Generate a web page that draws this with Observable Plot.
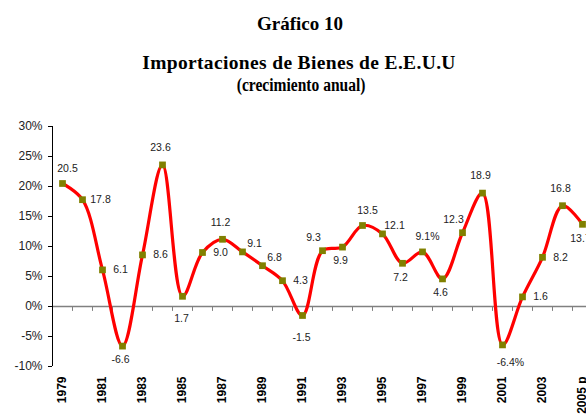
<!DOCTYPE html>
<html>
<head>
<meta charset="utf-8">
<script src="https://cdn.jsdelivr.net/npm/d3@7"></script>
<script src="https://cdn.jsdelivr.net/npm/@observablehq/plot@0.6"></script>
<style>
  html, body { margin: 0; padding: 0; background: #fff; overflow: hidden; }
  #wrap { position: relative; width: 586px; height: 417px; }
  .t { position: absolute; left: 0; width: 586px; text-align: center; font-family: "Liberation Serif", "Times New Roman", serif; font-weight: bold; color: #000; white-space: nowrap; }
  #chart { position: absolute; left: 0; top: 0; }
</style>
</head>
<body>
<div id="wrap">
  <div id="chart"></div>
  <div class="t" id="t1" style="top:14px;font-size:19px;line-height:19px;left:7px;">Gráfico 10</div>
  <div class="t" id="t2" style="top:53px;font-size:19.5px;line-height:19.5px;left:6px;letter-spacing:0.35px;">Importaciones de Bienes de E.E.U.U</div>
  <div class="t" id="t3" style="top:76px;font-size:18.5px;line-height:18.5px;left:7px;transform:scaleX(0.84);transform-origin:300px 50%;">(crecimiento anual)</div>
</div>
<script>
// ---- data ----
const years = [1979,1980,1981,1982,1983,1984,1985,1986,1987,1988,1989,1990,1991,1992,1993,1994,1995,1996,1997,1998,1999,2000,2001,2002,2003,2004,2005];
const growth = [20.5,17.8,6.1,-6.6,8.6,23.6,1.7,9.0,11.2,9.1,6.8,4.3,-1.5,9.3,9.9,13.5,12.1,7.2,9.1,4.6,12.3,18.9,-6.4,1.6,8.2,16.8,13.7];
const labelTexts = ["20.5","17.8","6.1","-6.6","8.6","23.6","1.7","9.0","11.2","9.1","6.8","4.3","-1.5","9.3","9.9","13.5","12.1","7.2","9.1%","4.6","12.3","18.9","-6.4%","1.6","8.2","16.8","13.7"];
const labelPlacement = ["aboveright","right","right","below","right","above","farbelow","right","above","upright","upright","right","farbelow","upleft","below","aboveright","upright","below","aboveright","below","upleft","above","downright","right","right","above","below"];
const xTickYears = [1979,1981,1983,1985,1987,1989,1991,1993,1995,1997,1999,2001,2003,2005];
const xTickLabels = ["1979","1981","1983","1985","1987","1989","1991","1993","1995","1997","1999","2001","2003","2005 p"];
const yTicks = [-10,-5,0,5,10,15,20,25,30];

const data = years.map((y, i) => ({year: y, value: growth[i], label: labelTexts[i], place: labelPlacement[i]}));
const separators = years.slice(0, -1).map(y => y + 0.5);

const offsets = {
  above:      {dx: -2, dy: -17},
  aboveright: {dx: 5,  dy: -15},
  below:      {dx: -2, dy: 14},
  farbelow:   {dx: -1, dy: 22},
  right:      {dx: 18, dy: 0},
  upright:    {dx: 12, dy: -8},
  upleft:     {dx: -9, dy: -13},
  downright:  {dx: 8,  dy: 18}
};

const labelMarks = Object.entries(offsets).map(([k, o]) =>
  Plot.text(data.filter(d => d.place === k), {
    x: "year", y: "value", text: "label", dx: o.dx, dy: o.dy,
    fontSize: 10.5, fill: "#222", textAnchor: "middle", lineAnchor: "middle"
  })
);

const tickShape = { draw(context, l) { context.moveTo(0, 0); context.lineTo(0, -l); } };

const chart = Plot.plot({
  width: 586,
  height: 417,
  marginTop: 126,
  marginBottom: 51,
  marginLeft: 52,
  marginRight: 0,
  style: { fontFamily: "'Liberation Sans', Arial, sans-serif", background: "transparent", overflow: "visible" },
  x: { domain: [1978.5, 2005.5], range: [52, 592] },
  y: { domain: [-10, 30] },
  marks: [
    Plot.ruleY([0], { stroke: "#808080", strokeWidth: 1.6 }),
    Plot.vector(separators, { x: d => d, y: 0, length: 4, rotate: 180, anchor: "start", shape: tickShape, stroke: "#808080", strokeWidth: 1 }),
    Plot.ruleX([1978.5], { stroke: "#000", strokeWidth: 1 }),
    Plot.axisY({ ticks: yTicks, tickFormat: d => d + "%", tickSize: 4, tickPadding: 6, fontSize: 12, label: null, stroke: "#000", fill: "#222" }),
    Plot.axisX({ ticks: xTickYears, tickFormat: d => xTickLabels[xTickYears.indexOf(d)], tickRotate: -90, tickSize: 0, tickPadding: 10, fontSize: 12, fontWeight: "bold", label: null, fill: "#000" }),
    Plot.line(data, { x: "year", y: "value", stroke: "#ff0000", strokeWidth: 3.2, curve: "catmull-rom" }),
    Plot.dot(data, { x: "year", y: "value", symbol: "square", fill: "#808000", r: 3.8 }),
    ...labelMarks
  ]
});
document.getElementById("chart").appendChild(chart);
</script>
</body>
</html>
